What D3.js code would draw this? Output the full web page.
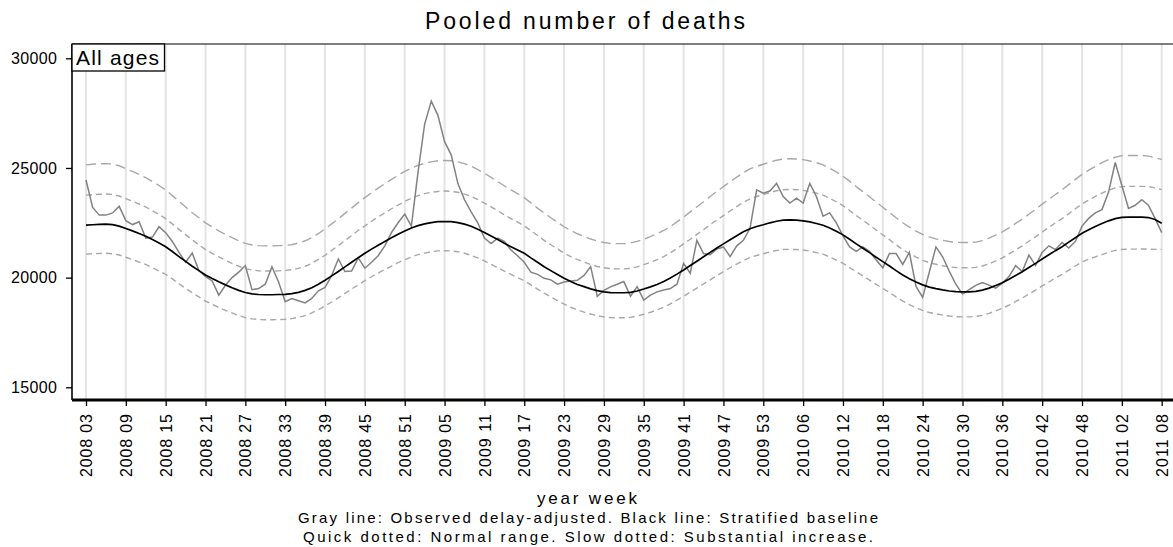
<!DOCTYPE html>
<html><head><meta charset="utf-8">
<script src="https://cdn.jsdelivr.net/npm/d3@7"></script>
<style>
body{margin:0;background:#fff}
svg{display:block}
text{font-family:"Liberation Sans",Arial,sans-serif;fill:#000}
</style>
</head><body>
<svg id="chart" width="1173" height="547"></svg>
<script>
// ---------------- DATA ----------------
const titleText = "Pooled number of deaths";
const panelLabel = "All ages";
const xAxisTitle = "year week";
const captionLines = [
  "Gray line: Observed delay-adjusted. Black line: Stratified baseline",
  "Quick dotted: Normal range. Slow dotted: Substantial increase."
];
// ISO weeks covered: 2008 w03 .. 2011 w08
const yearWeeks = [[2008, 3, 52], [2009, 1, 53], [2010, 1, 52], [2011, 1, 8]];
const yTicks = [15000, 20000, 25000, 30000];
const tickEvery = 6;

const observed = [
 24450,23200,22850,22850,22950,23250,22600,22420,22550,21800,
 21850,22320,22050,21650,21150,20700,21120,20320,20050,19850,
 19200,19650,20000,20250,20550,19450,19500,19700,20500,19800,
 18900,19050,18950,18850,19050,19400,19550,20100,20850,20280,
 20300,20900,20430,20700,21000,21450,22050,22500,22900,22350,
 24800,27000,28050,27400,26200,25600,24300,23550,23000,22500,
 21800,21550,21800,21650,21260,21000,20700,20250,20150,19970,
 19900,19700,19800,19850,19880,20100,20500,19150,19420,19580,
 19700,19820,19150,19590,18980,19200,19350,19440,19500,19700,
 20650,20200,21700,21100,21050,21300,21400,20960,21450,21700,
 22250,24000,23850,23950,24300,23700,23400,23620,23400,24300,
 23700,22800,22950,22500,21900,21400,21200,21400,21200,20800,
 20450,21100,21100,20600,21150,19600,19100,20250,21400,20950,
 20300,19700,19250,19450,19650,19780,19660,19520,19750,20050,
 20550,20280,21030,20550,21150,21450,21280,21600,21350,21650,
 22350,22700,22950,23100,23900,25250,24200,23150,23300,23550,
 23300,22700,22050
];
const baseline = [
 22390,22410,22430,22440,22420,22350,22240,22130,22010,21890,
 21740,21580,21410,21190,20960,20740,20520,20320,20120,19960,
 19810,19670,19540,19420,19320,19260,19230,19220,19220,19230,
 19240,19270,19330,19420,19540,19700,19880,20080,20280,20490,
 20700,20910,21110,21300,21480,21650,21820,21980,22130,22260,
 22370,22450,22510,22550,22560,22550,22510,22440,22340,22210,
 22060,21900,21740,21570,21410,21260,21110,20900,20700,20500,
 20320,20140,19970,19820,19690,19590,19490,19410,19350,19320,
 19310,19310,19330,19390,19480,19580,19690,19820,19980,20160,
 20350,20550,20750,20950,21150,21350,21540,21730,21910,22090,
 22230,22330,22410,22500,22570,22620,22630,22620,22590,22540,
 22470,22390,22260,22110,21950,21750,21540,21340,21140,20930,
 20730,20530,20320,20120,19950,19800,19670,19570,19500,19440,
 19390,19360,19350,19350,19370,19430,19520,19640,19770,19930,
 20100,20270,20460,20650,20850,21040,21230,21410,21620,21820,
 22020,22180,22330,22470,22590,22690,22750,22760,22760,22760,
 22740,22650,22480
];
const normalUpper = [
 23760,23780,23800,23810,23790,23720,23600,23480,23350,23220,
 23050,22880,22690,22450,22200,21960,21720,21500,21280,21110,
 20950,20790,20650,20520,20410,20350,20310,20300,20300,20310,
 20330,20360,20420,20520,20650,20830,21020,21240,21460,21690,
 21920,22150,22360,22570,22770,22950,23140,23310,23480,23620,
 23740,23830,23890,23930,23950,23930,23890,23810,23710,23560,
 23400,23230,23050,22870,22690,22530,22360,22140,21920,21700,
 21500,21310,21120,20960,20820,20710,20600,20510,20450,20410,
 20400,20400,20420,20490,20590,20700,20820,20960,21130,21330,
 21540,21750,21970,22190,22410,22630,22830,23040,23240,23430,
 23590,23700,23780,23880,23960,24010,24020,24010,23980,23920,
 23850,23760,23620,23460,23280,23060,22830,22620,22400,22170,
 21950,21730,21500,21280,21100,20940,20790,20680,20610,20540,
 20490,20460,20450,20450,20470,20530,20630,20760,20900,21080,
 21260,21450,21660,21860,22080,22290,22500,22690,22920,23140,
 23360,23530,23700,23850,23980,24090,24150,24160,24160,24160,
 24150,24090,24010
];
const substantialUpper = [
 25140,25170,25190,25200,25180,25100,24970,24840,24700,24560,
 24380,24200,24000,23740,23480,23220,22960,22730,22500,22310,
 22130,21970,21820,21680,21560,21490,21460,21450,21450,21460,
 21470,21500,21580,21680,21820,22010,22220,22450,22680,22930,
 23170,23420,23650,23870,24080,24280,24480,24660,24840,24990,
 25120,25210,25280,25330,25340,25330,25280,25200,25080,24930,
 24760,24570,24380,24190,24000,23830,23650,23410,23170,22940,
 22730,22520,22320,22150,22000,21880,21760,21670,21600,21560,
 21550,21550,21580,21650,21750,21870,22000,22150,22330,22540,
 22760,23000,23230,23460,23700,23930,24150,24370,24580,24790,
 24960,25070,25170,25270,25350,25410,25420,25410,25380,25320,
 25240,25140,24990,24820,24630,24400,24150,23920,23690,23440,
 23210,22970,22730,22500,22300,22120,21970,21860,21770,21700,
 21650,21610,21600,21600,21620,21690,21800,21940,22090,22270,
 22470,22670,22890,23110,23350,23570,23790,24000,24240,24480,
 24710,24900,25070,25240,25380,25490,25560,25570,25570,25570,
 25540,25470,25390
];
const normalLower = [
 21070,21090,21100,21110,21090,21030,20930,20820,20710,20600,
 20460,20300,20150,19940,19720,19510,19310,19120,18930,18780,
 18640,18510,18390,18270,18180,18120,18090,18080,18080,18090,
 18100,18130,18190,18270,18390,18540,18710,18890,19080,19280,
 19480,19670,19860,20040,20210,20370,20530,20680,20820,20940,
 21050,21120,21180,21220,21230,21220,21180,21110,21020,20900,
 20760,20610,20460,20300,20150,20000,19860,19670,19480,19290,
 19120,18950,18790,18650,18530,18430,18340,18260,18210,18180,
 18170,18170,18190,18250,18330,18420,18530,18650,18800,18970,
 19150,19340,19520,19710,19900,20090,20270,20450,20620,20780,
 20920,21010,21090,21170,21240,21280,21290,21280,21260,21210,
 21140,21070,20940,20800,20650,20460,20270,20080,19890,19690,
 19510,19320,19120,18930,18770,18630,18510,18410,18350,18290,
 18250,18220,18210,18210,18230,18280,18370,18480,18600,18750,
 18910,19070,19250,19430,19620,19800,19980,20150,20340,20530,
 20720,20840,20950,21050,21150,21240,21290,21300,21300,21310,
 21300,21290,21290
];

// ---------------- CATEGORIES ----------------
const weekLabels = [];
yearWeeks.forEach(([yr, w0, w1]) => {
  for (let w = w0; w <= w1; w++) weekLabels.push(yr + " " + String(w).padStart(2, "0"));
});
const tickLabels = weekLabels.filter((d, i) => i % tickEvery === 0);

// ---------------- LAYOUT ----------------
const plot = {left: 72, right: 1173, top: 44, bottom: 400};
const svg = d3.select("#chart");

const x = d3.scalePoint().domain(weekLabels).range([86, 1161.7]);
const y = d3.scaleLinear().domain([15000, 30000]).range([387.3, 58.3]);

// gridlines
svg.append("g").selectAll("line").data(tickLabels).join("line")
  .attr("x1", d => x(d)).attr("x2", d => x(d))
  .attr("y1", plot.top).attr("y2", plot.bottom)
  .attr("stroke", "#e4e4e4").attr("stroke-width", 2);

// series
const line = d3.line().x((d, i) => x(weekLabels[i])).y(d => y(d));
const g = svg.append("g");
g.append("path").attr("d", line(substantialUpper)).attr("fill", "none")
  .attr("stroke", "#a8a8a8").attr("stroke-width", 1.4).attr("stroke-dasharray", "10,5");
g.append("path").attr("d", line(normalUpper)).attr("fill", "none")
  .attr("stroke", "#a8a8a8").attr("stroke-width", 1.4).attr("stroke-dasharray", "6,4");
g.append("path").attr("d", line(normalLower)).attr("fill", "none")
  .attr("stroke", "#a8a8a8").attr("stroke-width", 1.4).attr("stroke-dasharray", "6,4");
g.append("path").attr("d", line(observed)).attr("fill", "none")
  .attr("stroke", "#828282").attr("stroke-width", 1.5);
g.append("path").attr("d", line(baseline)).attr("fill", "none")
  .attr("stroke", "#000").attr("stroke-width", 1.7);

// frame (top and left)
svg.append("line").attr("x1", plot.left).attr("x2", plot.right).attr("y1", plot.top).attr("y2", plot.top)
  .attr("stroke", "#000").attr("stroke-width", 1.2);
svg.append("line").attr("x1", plot.left).attr("x2", plot.left).attr("y1", plot.top).attr("y2", plot.bottom)
  .attr("stroke", "#000").attr("stroke-width", 1.6);

// y axis
const yAxis = d3.axisLeft(y).tickValues(yTicks).tickSize(6).tickPadding(9).tickFormat(d3.format("d"));
const ya = svg.append("g").attr("transform", `translate(${plot.left},0)`).call(yAxis);
ya.select(".domain").remove();
ya.selectAll("line").attr("stroke", "#000").attr("stroke-width", 1.3);
ya.selectAll("text").attr("font-size", 16).attr("font-family", "Liberation Sans, Arial, sans-serif")
  .attr("textLength", 46).attr("lengthAdjust", "spacing");

// x axis
const xAxis = d3.axisBottom(x).tickValues(tickLabels).tickSize(6).tickPadding(0);
const xa = svg.append("g").attr("transform", `translate(0,${plot.bottom})`).call(xAxis);
xa.select(".domain").attr("d", `M${plot.left},0H${plot.right}`).attr("stroke", "#000").attr("stroke-width", 3);
xa.selectAll(".tick line").attr("stroke", "#000").attr("stroke-width", 1.3).attr("y1", 1);
xa.selectAll(".tick text")
  .attr("font-size", 16).attr("font-family", "Liberation Sans, Arial, sans-serif")
  .attr("text-anchor", "end")
  .attr("transform", "translate(0,14) rotate(-90)")
  .attr("x", 0).attr("y", 0).attr("dy", "0.35em")
  .attr("textLength", 63).attr("lengthAdjust", "spacing");

// panel label box
svg.append("rect").attr("x", plot.left).attr("y", plot.top).attr("width", 92.5).attr("height", 27)
  .attr("fill", "#fff").attr("stroke", "#000").attr("stroke-width", 1.3);
svg.append("text").attr("x", 76).attr("y", 64.5).attr("font-size", 21)
  .attr("textLength", 83).attr("lengthAdjust", "spacing").text(panelLabel);

// title
svg.append("text").attr("x", 585).attr("y", 29).attr("text-anchor", "middle").attr("font-size", 23)
  .attr("textLength", 320).attr("lengthAdjust", "spacing").text(titleText);

// axis title + captions
svg.append("text").attr("x", 587).attr("y", 504).attr("text-anchor", "middle").attr("font-size", 17)
  .attr("textLength", 100).attr("lengthAdjust", "spacing").text(xAxisTitle);
const capLens = [580, 570];
svg.append("g").selectAll("text").data(captionLines).join("text")
  .attr("x", 588).attr("y", (d, i) => 523 + i * 18.5).attr("text-anchor", "middle").attr("font-size", 15)
  .attr("textLength", (d, i) => capLens[i]).attr("lengthAdjust", "spacing")
  .text(d => d);
</script>
</body></html>
